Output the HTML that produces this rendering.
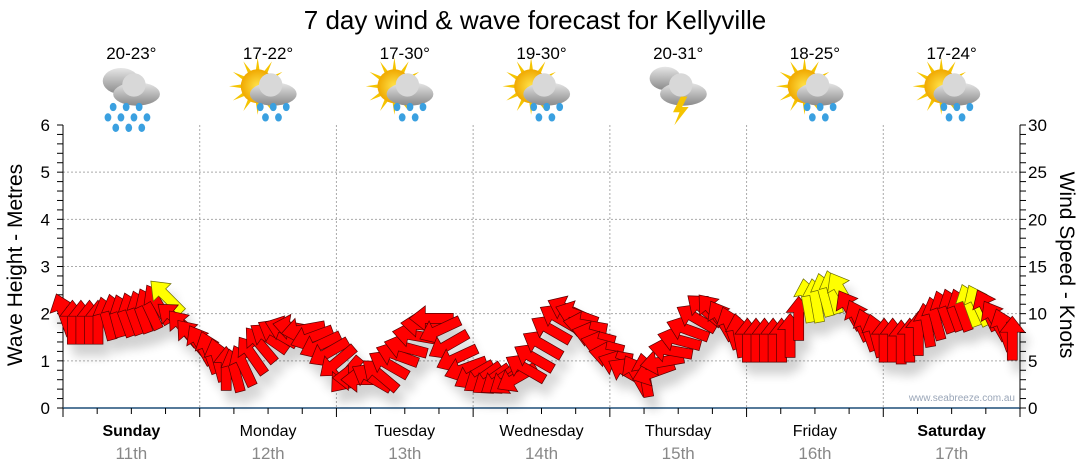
<!DOCTYPE html>
<html><head><meta charset="utf-8">
<style>
html,body{margin:0;padding:0;background:#fff;}
svg{display:block;font-family:"Liberation Sans","DejaVu Sans",sans-serif;}
</style></head>
<body>
<svg id="chart" width="1080" height="475" viewBox="0 0 1080 475" xmlns="http://www.w3.org/2000/svg">
<defs>
<filter id="shadow" x="-50%" y="-50%" width="200%" height="200%">
<feGaussianBlur in="SourceAlpha" stdDeviation="5"/>
<feOffset dx="6" dy="12" result="b"/>
<feComponentTransfer><feFuncA type="linear" slope="0.18"/></feComponentTransfer>
<feMerge><feMergeNode/><feMergeNode in="SourceGraphic"/></feMerge>
</filter>
<radialGradient id="sun" cx="50%" cy="50%" r="50%"><stop offset="0" stop-color="#ffe34a"/><stop offset="1" stop-color="#f0a800"/></radialGradient>
<linearGradient id="cloud" x1="0" y1="0" x2="0" y2="1"><stop offset="0" stop-color="#e6e6e6"/><stop offset="1" stop-color="#8a8a8a"/></linearGradient>
</defs>
<text x="535" y="29" font-size="26" text-anchor="middle" fill="#000">7 day wind &amp; wave forecast for Kellyville</text>
<g id="grid"></g>
<g id="axes"></g>
<g id="icons"></g>
<g id="arrows" filter="url(#shadow)"></g>
<text x="1015" y="401" font-size="10" text-anchor="end" fill="#9aa6b8">www.seabreeze.com.au</text>
<text transform="translate(22,265) rotate(-90)" font-size="21" text-anchor="middle">Wave Height - Metres</text>
<text transform="translate(1060,265) rotate(90)" font-size="21" text-anchor="middle">Wind Speed - Knots</text>
</svg>
<script>
const days=["Sunday","Monday","Tuesday","Wednesday","Thursday","Friday","Saturday"];
const dates=["11th","12th","13th","14th","15th","16th","17th"];
const temps=["20-23°","17-22°","17-30°","19-30°","20-31°","18-25°","17-24°"];
const icons=["rain","sunrain","suncloud","sunrain","storm","sunrain","sunrain"];
const leftTicks=[0,1,2,3,4,5,6];
const rightTicks=[0,5,10,15,20,25,30];
const windSpeed=[9.9,9.1,9.1,9.1,9.1,9.5,9.8,9.8,10,10.2,10.5,11,11.8,9.5,8.5,7.5,
6.7,5.9,5.1,4.2,4.0,4.5,5.6,6.7,7.4,7.9,8.3,8.5,8.3,7.5,6.7,5.9,
4.9,3.5,3.2,3.0,3.2,3.5,4.6,5.6,6.4,7.7,8.8,9.5,8.3,6.7,5.3,4.2,
3.5,3.2,3.0,3.0,3.0,3.2,4.2,5.3,6.7,8.3,9.5,10.4,9.9,8.8,7.7,6.7,
5.6,4.6,3.8,3.5,3.5,3.8,4.9,6.1,7.2,8.3,9.5,10.4,10.2,9.3,8.5,7.7,
7.2,7.2,7.2,7.2,7.2,7.7,9.5,11.4,11.4,12,12.3,12.3,10.4,9.3,8.3,7.7,
7.2,7.2,7.0,7.2,7.9,8.8,9.5,10.2,10.4,10.4,10.9,10.9,10.4,9.3,8.3,7.4];
const windDir=[340,0,0,0,0,345,345,340,340,340,335,330,315,310,320,320,
330,340,345,0,345,335,325,320,305,300,290,280,260,250,245,240,
230,220,270,270,300,310,300,290,285,280,275,270,245,240,245,250,
240,235,235,235,235,240,300,300,300,300,300,295,290,280,285,285,
280,290,300,330,350,250,260,280,285,290,300,310,320,330,340,350,
0,0,0,0,0,0,0,350,350,345,345,330,330,335,340,345,
0,0,0,0,0,350,345,340,340,340,340,335,335,330,340,0];
const gustFlag=[0,0,0,0,0,0,0,0,0,0,0,0,1,0,0,0,
0,0,0,0,0,0,0,0,0,0,0,0,0,0,0,0,
0,0,0,0,0,0,0,0,0,0,0,0,0,0,0,0,
0,0,0,0,0,0,0,0,0,0,0,0,0,0,0,0,
0,0,0,0,0,0,0,0,0,0,0,0,0,0,0,0,
0,0,0,0,0,0,0,1,1,1,1,1,0,0,0,0,
0,0,0,0,0,0,0,0,0,0,1,1,0,0,0,0];

const NS="http://www.w3.org/2000/svg";
const X0=63,X1=1020,Y0=408,Y6=125;
const dayW=(X1-X0)/7;
const yM=v=>Y0-(v/6)*(Y0-Y6);
const yK=v=>Y0-(v/30)*(Y0-Y6);
const xI=i=>X0+(i+0.1)*dayW/16;
function mk(tag,attrs,parent){const e=document.createElementNS(NS,tag);for(const k in attrs)e.setAttribute(k,attrs[k]);parent.appendChild(e);return e;}
const grid=document.getElementById('grid'),axes=document.getElementById('axes'),ic=document.getElementById('icons'),ar=document.getElementById('arrows');

leftTicks.forEach((v,i)=>{
  if(v>0&&v<6){const g=mk('line',{x1:X0,x2:X1,y1:yM(v),y2:yM(v),stroke:'#aaa','stroke-dasharray':'2,2'},grid);
  
  }
  const t=mk('text',{x:50,y:yM(v)+6,'font-size':17,'text-anchor':'end'},axes);t.textContent=v;
  
  
});
for(let k=0;k<=30;k++){const y=Y0-(k/30)*(Y0-Y6);mk('line',{x1:57,x2:X0,y1:y,y2:y,stroke:'#000'},axes);mk('line',{x1:X1,x2:X1+6,y1:y,y2:y,stroke:'#000'},axes);}
rightTicks.forEach(v=>{const t=mk('text',{x:1028,y:yK(v)+6,'font-size':17},axes);t.textContent=v;
  
  });
mk('line',{x1:X0,x2:X0,y1:Y6,y2:Y0,stroke:'#000'},axes);
mk('line',{x1:X1,x2:X1,y1:Y6,y2:Y0,stroke:'#000'},axes);
mk('line',{x1:X0,x2:X1,y1:Y0,y2:Y0,stroke:'#1f4e79','stroke-width':1.5},axes);
for(let d=0;d<=7*4;d++){const x=X0+d*dayW/4;mk('line',{x1:x,x2:x,y1:Y0,y2:Y0+(d%4==0?9:6),stroke:'#000'},axes);}
days.forEach((d,i)=>{
  const cx=X0+(i+0.5)*dayW;
  if(i>0){const g=mk('line',{x1:X0+i*dayW,x2:X0+i*dayW,y1:Y6,y2:Y0,stroke:'#aaa','stroke-dasharray':'2,2'},grid);
  
  }
  const t=mk('text',{x:cx,y:436,'font-size':16,'text-anchor':'middle','font-weight':(i==0||i==6)?'bold':'normal'},axes);t.textContent=d;
  
  
  const t2=mk('text',{x:cx,y:459,'font-size':17,'text-anchor':'middle',fill:'#888'},axes);t2.textContent=dates[i];
  
  
  const t3=mk('text',{x:cx,y:59,'font-size':17,'text-anchor':'middle'},ic);t3.textContent=temps[i];
  
  
  const g=mk('g',{transform:`translate(${cx},94) scale(1.3)`},ic);
  
  
  const kind=icons[i];
  if(kind!='rain'&&kind!='storm'){
    for(let a=0;a<12;a++){const r=a*30*Math.PI/180;mk('polygon',{points:`${-8+Math.cos(r-0.15)*11},${-6+Math.sin(r-0.15)*11} ${-8+Math.cos(r)*22},${-6+Math.sin(r)*22} ${-8+Math.cos(r+0.15)*11},${-6+Math.sin(r+0.15)*11}`,fill:'#f5c400'},g);}
    mk('circle',{cx:-8,cy:-6,r:13,fill:'url(#sun)'},g);
  }
  if(kind=='rain'){mk('ellipse',{cx:-8,cy:-10,rx:14,ry:10,fill:'url(#cloud)'},g);}
  if(kind=='storm'){mk('ellipse',{cx:-10,cy:-12,rx:12,ry:9,fill:'url(#cloud)'},g);}
  mk('ellipse',{cx:4,cy:0,rx:18,ry:9,fill:'url(#cloud)'},g);
  mk('circle',{cx:2,cy:-7,r:9,fill:'#d8d8d8'},g);
  if(kind=='storm'){mk('polygon',{points:'2,2 -4,14 1,14 -3,24 8,10 3,10 7,2',fill:'#f5c400'},g);}
  else if(kind!='suncloud'||true){const drops=kind=='rain'?[[-14,10],[-4,10],[6,10],[-18,18],[-8,18],[2,18],[12,18],[-12,26],[-2,26],[8,26]]:[[-6,10],[4,10],[14,10],[-2,18],[8,18]];
    drops.forEach(p=>mk('ellipse',{cx:p[0],cy:p[1],rx:2.6,ry:3.2,fill:'#3aa0e0'},g));}
});

// arrows
const L=44,hl=16,hw=12.5,sw=5;
const shape=`0,${-L/2} ${hw},${-L/2+hl} ${sw},${-L/2+hl} ${sw},${L/2} ${-sw},${L/2} ${-sw},${-L/2+hl} ${-hw},${-L/2+hl}`;
windSpeed.forEach((v,i)=>{
  const p=mk('polygon',{points:shape,transform:`translate(${xI(i).toFixed(1)},${yK(v).toFixed(1)}) rotate(${windDir[i]})`,fill:gustFlag[i]?'#ffff00':'#ff0000',stroke:gustFlag[i]?'#6a6a00':'#5a0000','stroke-width':0.7},ar);
  
  
});
</script>
</body></html>
